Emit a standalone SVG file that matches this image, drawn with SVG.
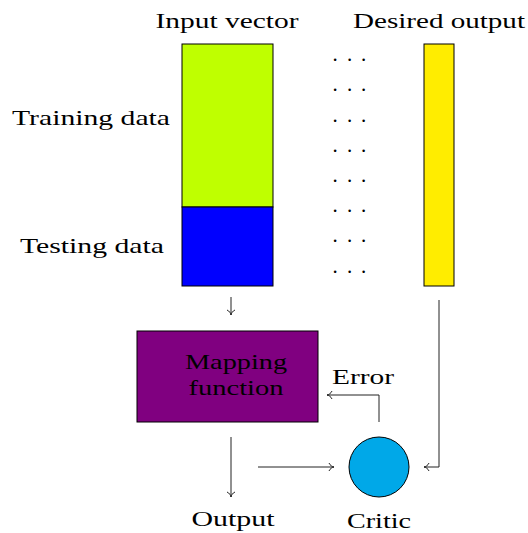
<svg xmlns="http://www.w3.org/2000/svg" width="528" height="533" viewBox="0 0 528 533">
<style>
text{font-family:"Liberation Serif","DejaVu Serif",serif;font-size:21px;fill:#000}
.c{fill:none;stroke:#222;stroke-width:1}
.b{stroke:#000;stroke-width:1}
</style>
<defs>
<marker id="a" viewBox="-6 -5 8 10" markerWidth="8" markerHeight="10" refX="0" refY="0" orient="auto" markerUnits="userSpaceOnUse">
<path d="M-5,-4 C-4,-1.5 -1.5,-0.3 0,0 C-1.5,0.3 -4,1.5 -5,4" fill="none" stroke="#222" stroke-width="1"/>
</marker>
</defs>
<rect width="528" height="533" fill="#fff"/>
<g id="labels">
<text x="227" y="28" text-anchor="middle" textLength="143" lengthAdjust="spacingAndGlyphs">Input vector</text>
<text x="439" y="28" text-anchor="middle" textLength="172" lengthAdjust="spacingAndGlyphs">Desired output</text>
<text x="12" y="125" textLength="158" lengthAdjust="spacingAndGlyphs">Training data</text>
<text x="20" y="253" textLength="144" lengthAdjust="spacingAndGlyphs">Testing data</text>
</g>
<g id="input-vector">
<rect class="b" x="182" y="44" width="91" height="163" fill="#bfff00"/>
<rect class="b" x="182" y="207" width="91" height="79" fill="#0000ff"/>
</g>
<g id="desired-output">
<rect class="b" x="424" y="44" width="30" height="242" fill="#ffed00"/>
</g>
<g id="dots">
<text x="332.5 347 361" y="61">...</text>
<text x="332.5 347 361" y="91">...</text>
<text x="332.5 347 361" y="122">...</text>
<text x="332.5 347 361" y="152">...</text>
<text x="332.5 347 361" y="182">...</text>
<text x="332.5 347 361" y="212">...</text>
<text x="332.5 347 361" y="242">...</text>
<text x="332.5 347 361" y="273">...</text>
</g>
<g id="mapping">
<rect class="b" x="137" y="331" width="181" height="91" fill="#800080"/>
<text x="236" y="369" text-anchor="middle" textLength="102" lengthAdjust="spacingAndGlyphs">Mapping</text>
<text x="236" y="395" text-anchor="middle" textLength="95" lengthAdjust="spacingAndGlyphs">function</text>
</g>
<g id="critic">
<circle class="b" cx="379" cy="467" r="30" fill="#00a8e8"/>
<text x="379" y="528" text-anchor="middle" textLength="64" lengthAdjust="spacingAndGlyphs">Critic</text>
</g>
<g id="output">
<text x="233" y="526" text-anchor="middle" textLength="83" lengthAdjust="spacingAndGlyphs">Output</text>
</g>
<g id="connectors">
<path class="c" d="M231,297 V315" marker-end="url(#a)"/>
<path class="c" d="M231,437 V497" marker-end="url(#a)"/>
<path class="c" d="M258,467 H334" marker-end="url(#a)"/>
<path class="c" d="M379,422 V395 H327" marker-end="url(#a)"/>
<path class="c" d="M439,300 V467 H424" marker-end="url(#a)"/>
<text x="363" y="384" text-anchor="middle" textLength="62" lengthAdjust="spacingAndGlyphs">Error</text>
</g>
</svg>
